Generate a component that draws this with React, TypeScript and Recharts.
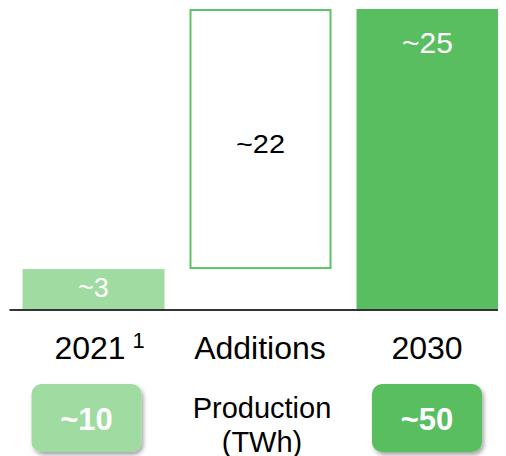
import React from "react";
import { BarChart, Bar, XAxis, YAxis } from "recharts";

const categories = ["2021", "Additions", "2030"];
const baseValues = [0, 3.4, 0];
const barValues = [3.4, 21.6, 25];
const barLabels = ["~3", "~22", "~25"];
const footnotes = ["1", "", ""];
const productionValues = ["~10", "", "~50"];
const productionCaption = ["Production", "(TWh)"];

const LIGHT = "#A0DBA2";
const DARK = "#58BE60";
const BORDER = "#5CC364";
const FONT = "'Liberation Sans', Arial, sans-serif";

const data = categories.map((name, i) => ({
  x: i,
  name,
  base: baseValues[i],
  value: barValues[i],
}));

const barFill = [LIGHT, "none", DARK];
const labelColor = ["#FFFFFF", "#000000", "#FFFFFF"];
const labelSize = [27, 25, 30];
const labelOffset = [28, 144, 44];
const labelLength: (number | undefined)[] = [undefined, 49, undefined];
const boxFill = [LIGHT, "none", DARK];
const boxShift = [-6.5, 0, 0];
const labelShift = [-3, 0, 0];

const BarShape = (props: any) => {
  const { x, y, width, height, index } = props;
  const cx = x + width / 2;
  const len = labelLength[index];
  return (
    <g>
      {index === 1 ? (
        <rect x={x + 1} y={y + 1} width={width - 2} height={height - 2} fill="#FFFFFF" stroke={BORDER} strokeWidth={2} />
      ) : (
        <rect x={x} y={y} width={width} height={height} fill={barFill[index]} />
      )}
      <text
        x={cx}
        y={y + labelOffset[index]}
        textAnchor="middle"
        fill={labelColor[index]}
        fontSize={labelSize[index]}
        fontFamily={FONT}
        {...(len ? { textLength: len, lengthAdjust: "spacingAndGlyphs" } : {})}
      >
        {barLabels[index]}
      </text>
    </g>
  );
};

const Tick = (props: any) => {
  const { x, y, payload } = props;
  const i = payload.value as number;
  const prod = productionValues[i];
  return (
    <g>
      {i === 0 && (
        <defs>
          <filter id="boxShadow" x="-20%" y="-20%" width="140%" height="150%">
            <feDropShadow dx="2" dy="3" stdDeviation="2" floodColor="#000" floodOpacity="0.35" />
          </filter>
        </defs>
      )}
      <text x={x + labelShift[i]} y={y + 49} textAnchor="middle" fontSize={32} fontFamily={FONT} fill="#000">
        {categories[i]}
      </text>
      {footnotes[i] && (
        <text x={x + 39.6} y={y + 37.5} fontSize={22} fontFamily={FONT} fill="#000">
          {footnotes[i]}
        </text>
      )}
      {prod ? (
        <g>
          <rect
            x={x + boxShift[i] - 55}
            y={y + 74}
            width={110}
            height={68}
            rx={10}
            ry={10}
            fill={boxFill[i]}
            filter="url(#boxShadow)"
          />
          <text x={x + boxShift[i]} y={y + 120} textAnchor="middle" fontSize={31} fontWeight="bold" fontFamily={FONT} fill="#FFFFFF">
            {prod}
          </text>
        </g>
      ) : (
        <g>
          <text x={x + 2} y={y + 108.3} textAnchor="middle" fontSize={29} fontFamily={FONT} fill="#000">
            {productionCaption[0]}
          </text>
          <text x={x + 2} y={y + 141.7} textAnchor="middle" fontSize={29} fontFamily={FONT} fill="#000">
            {productionCaption[1]}
          </text>
        </g>
      )}
    </g>
  );
};

export default function App() {
  return (
    <div style={{ width: 498, height: 448 }}>
      <BarChart
        width={498}
        height={448}
        data={data}
        margin={{ top: 1, right: 0, bottom: 0, left: 1.5 }}
        barSize={142}
      >
        <XAxis
          dataKey="x"
          type="number"
          domain={[-0.5, 2.473]}
          ticks={[0, 1, 2]}
          interval={0}
          allowDataOverflow
          height={146}
          tickLine={false}
          tickSize={0}
          tickMargin={0}
          axisLine={{ stroke: "#333333", strokeWidth: 2 }}
          tick={<Tick />}
        />
        <YAxis hide domain={[0, 25]} allowDataOverflow />
        <Bar dataKey="base" stackId="a" fill="none" isAnimationActive={false} />
        <Bar dataKey="value" stackId="a" shape={<BarShape />} isAnimationActive={false} />
      </BarChart>
    </div>
  );
}
